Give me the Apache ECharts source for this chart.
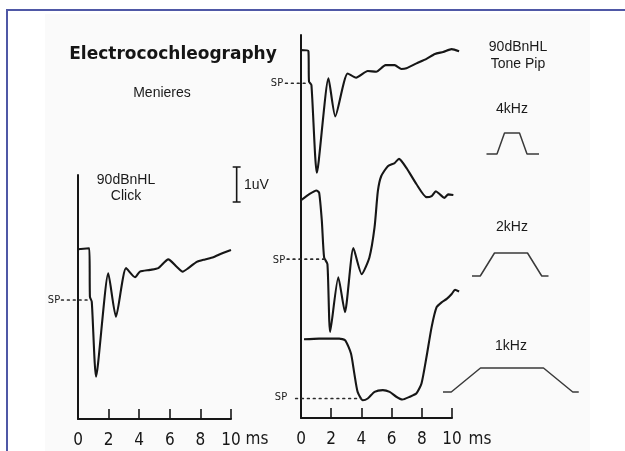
<!DOCTYPE html>
<html><head><meta charset="utf-8">
<script src="https://cdn.jsdelivr.net/npm/echarts@6/dist/echarts.min.js"></script>
<style>html,body{margin:0;padding:0;background:#fff}#c{width:625px;height:451px}</style>
</head><body><div id="c"></div>
<script>
// ---- data (time in ms, amplitude in uV) ----
const xTicks = [0, 2, 4, 6, 8, 10];

const clickTime = [0, 0.74, 0.78, 0.90, 1.18, 1.98, 2.48, 3.14, 3.73, 4.05, 4.71, 5.25, 5.90, 6.45, 6.84, 7.21, 7.76, 8.30, 8.84, 9.39, 10.0];
const clickAmp  = [4.85, 4.88, 3.49, 3.35, 1.21, 4.16, 2.92, 4.31, 4.05, 4.21, 4.26, 4.31, 4.56, 4.35, 4.21, 4.31, 4.49, 4.56, 4.62, 4.73, 4.83];
const clickSP   = 3.40;

const pip4Time = [0, 0.49, 0.53, 0.69, 1.05, 1.82, 2.27, 3.09, 3.65, 4.42, 4.98, 5.60, 6.20, 6.65, 6.98, 7.65, 8.31, 8.87, 9.42, 9.98, 10.47];
const pip4Amp  = [10.56, 10.53, 9.66, 9.56, 7.04, 9.75, 8.66, 9.89, 9.77, 9.96, 9.94, 10.13, 10.13, 10.02, 10.04, 10.18, 10.31, 10.45, 10.51, 10.59, 10.53];
const pip4SP   = 9.61;

const pip2Time = [0, 0.53, 1.02, 1.20, 1.38, 1.53, 1.75, 1.93, 2.47, 2.91, 3.47, 4.02, 4.53, 4.87, 5.09, 5.31, 5.75, 6.20, 6.49, 6.98, 7.65, 8.31, 8.65, 8.93, 9.20, 9.49, 9.75, 10.09];
const pip2Amp  = [6.25, 6.42, 6.53, 6.47, 5.66, 4.61, 4.42, 2.47, 4.04, 3.04, 4.88, 4.13, 4.61, 5.47, 6.51, 6.94, 7.23, 7.32, 7.44, 7.18, 6.71, 6.34, 6.37, 6.51, 6.42, 6.32, 6.42, 6.40];
const pip2SP   = 4.56;

const pip1Time = [0.2, 1.2, 2.53, 2.93, 3.31, 3.53, 3.75, 4.09, 4.42, 4.87, 5.42, 5.87, 6.31, 6.71, 7.20, 7.65, 7.98, 8.31, 8.65, 8.98, 9.31, 9.65, 9.98, 10.2, 10.47];
const pip1Amp  = [2.26, 2.28, 2.28, 2.23, 1.85, 1.28, 0.75, 0.51, 0.56, 0.75, 0.80, 0.75, 0.61, 0.53, 0.61, 0.71, 0.99, 1.75, 2.61, 3.18, 3.32, 3.42, 3.56, 3.68, 3.63];
const pip1SP   = 0.56;

// SP dotted marker extents (ms)
const spClick = [-1.07, 0.78];
const sp4 = [-1.02, 0.53];
const sp2 = [-0.91, 1.53];
const sp1 = [-0.35, 3.98];

// 1 uV calibration bar (ms position, uV range)
const calX = 10.37;
const calRange = [6.2, 7.2];

// stimulus envelopes (ms relative to centre, relative amplitude)
const env4Time = [-1.7, -1.0, -0.5, 0.5, 1.0, 1.8];
const env2Time = [-2.6, -2.05, -1.1, 1.1, 2.05, 2.5];
const env1Time = [-4.6, -4.05, -2.1, 2.1, 4.05, 4.45];
const envAmp   = [0, 0, 1, 1, 0, 0];

// ---- build ----
const zip = (a, b) => a.map((v, i) => [v, b[i]]);
const INK = '#161616';
const FONT = "'Liberation Sans', Arial, sans-serif";
const NARROW = "'Liberation Sans Narrow', 'DejaVu Sans Condensed', 'Liberation Sans', sans-serif";

// panel geometry (pixels per ms / per uV shared by visible axes and data overlay)
const L = { left: 78, bottom: 419, pxMs: 15.3, pxUv: 35, yMax: 6.97 };
const R = { left: 301, bottom: 418, pxMs: 15.1, pxUv: 35, yMax: 10.94 };
const OV = { xMin: -2, xMax: 11, yMax: 8 };   // overlay ranges
const ROV = { xMin: -2, xMax: 11, yMax: 12 };

function mainX(gi) {
  return {
    gridIndex: gi, type: 'value', min: xTicks[0], max: xTicks[xTicks.length - 1], interval: 2,
    axisLine: { show: true, onZero: false, lineStyle: { color: INK, width: 2 } },
    axisTick: { show: true, inside: true, length: 10, lineStyle: { color: INK, width: 1.6 } },
    axisLabel: { show: true, margin: 13, fontSize: 17, color: INK, fontFamily: NARROW },
    splitLine: { show: false }
  };
}
function mainY(gi, max) {
  return {
    gridIndex: gi, type: 'value', min: 0, max: max,
    axisLine: { show: true, onZero: false, lineStyle: { color: INK, width: 2 } },
    axisTick: { show: false }, axisLabel: { show: false }, splitLine: { show: false }
  };
}
function hid(gi, min, max) { return { gridIndex: gi, type: 'value', min: min, max: max, show: false }; }
function ovGrid(P, O) {
  return { left: P.left + O.xMin * P.pxMs, width: (O.xMax - O.xMin) * P.pxMs,
           top: P.bottom - O.yMax * P.pxUv, height: O.yMax * P.pxUv };
}

function trace(ai, data, w) {
  return { type: 'line', xAxisIndex: ai, yAxisIndex: ai, data: data, symbol: 'none', clip: false,
    smooth: 0.2, lineStyle: { color: INK, width: w || 2.1 }, silent: true, z: 3 };
}
function dotted(ai, ext, y) {
  return { type: 'line', xAxisIndex: ai, yAxisIndex: ai, data: [[ext[0], y], [ext[1], y]], symbol: 'none',
    clip: false, lineStyle: { color: '#2a2a2a', width: 1.7, type: [1.7, 4.2], cap: 'round' }, silent: true, z: 3 };
}
function env(ai, t) {
  return { type: 'line', xAxisIndex: ai, yAxisIndex: ai, data: zip(t, envAmp), symbol: 'none', clip: false,
    lineStyle: { color: '#3a3a3a', width: 1.5 }, silent: true, z: 3 };
}

const calData = [[calX - 0.26, calRange[1]], [calX + 0.26, calRange[1]], [calX, calRange[1]],
                 [calX, calRange[0]], [calX - 0.26, calRange[0]], [calX + 0.26, calRange[0]]];

function txt(x, y, s, size, opts) {
  return Object.assign({ type: 'text', x: x, y: y, silent: true,
    style: Object.assign({ text: s, fill: '#1a1a1a', font: size + 'px ' + FONT, textAlign: 'center', textVerticalAlign: 'middle' }, opts || {}) });
}

const option = {
  animation: false,
  backgroundColor: '#ffffff',
  grid: [
    { left: L.left, top: L.bottom - L.yMax * L.pxUv, width: 10 * L.pxMs, height: L.yMax * L.pxUv },
    { left: R.left, top: R.bottom - R.yMax * R.pxUv, width: 10 * R.pxMs, height: R.yMax * R.pxUv },
    ovGrid(L, OV),
    ovGrid(R, ROV),
    { left: 437, top: 133, width: 150, height: 21 },
    { left: 436, top: 253, width: 150, height: 23 },
    { left: 437, top: 368, width: 150, height: 24 }
  ],
  xAxis: [mainX(0), mainX(1), hid(2, OV.xMin, OV.xMax), hid(3, ROV.xMin, ROV.xMax), hid(4, -5, 5), hid(5, -5, 5), hid(6, -5, 5)],
  yAxis: [mainY(0, L.yMax), mainY(1, R.yMax), hid(2, 0, OV.yMax), hid(3, 0, ROV.yMax), hid(4, 0, 1), hid(5, 0, 1), hid(6, 0, 1)],
  series: [
    trace(2, zip(clickTime, clickAmp)),
    dotted(2, spClick, clickSP),
    Object.assign(trace(2, calData, 1.6), { smooth: false }),
    trace(3, zip(pip4Time, pip4Amp)),
    dotted(3, sp4, pip4SP),
    trace(3, zip(pip2Time, pip2Amp)),
    dotted(3, sp2, pip2SP),
    trace(3, zip(pip1Time, pip1Amp)),
    dotted(3, sp1, pip1SP),
    env(4, env4Time),
    env(5, env2Time),
    env(6, env1Time)
  ],
  graphic: [
    { type: 'rect', z: -1, silent: true, shape: { x: 45, y: 14, width: 545, height: 437 }, style: { fill: '#fafafa' } },
    { type: 'line', silent: true, shape: { x1: 6, y1: 10, x2: 625, y2: 10 }, style: { stroke: '#4f58a6', lineWidth: 2 } },
    { type: 'line', silent: true, shape: { x1: 7, y1: 10, x2: 7, y2: 451 }, style: { stroke: '#4f58a6', lineWidth: 2 } },
    txt(173, 55, 'Electrocochleography', 17, { font: "bold 17px 'DejaVu Sans', sans-serif", fill: '#151515' }),
    txt(162, 93, 'Menieres', 14),
    txt(126, 180, '90dBnHL', 14),
    txt(126, 196, 'Click', 14),
    txt(244, 185, '1uV', 14, { textAlign: 'left' }),
    txt(518, 47, '90dBnHL', 14),
    txt(518, 64, 'Tone Pip', 14),
    txt(512, 109, '4kHz', 14),
    txt(512, 227, '2kHz', 14),
    txt(511, 346, '1kHz', 14),
    txt(257, 440, 'ms', 17, { font: '17px ' + NARROW }),
    txt(480, 440, 'ms', 17, { font: '17px ' + NARROW }),
    txt(54, 300, 'SP', 11, { font: '11px ' + NARROW }),
    txt(277, 83, 'SP', 11, { font: '11px ' + NARROW }),
    txt(279, 260, 'SP', 11, { font: '11px ' + NARROW }),
    txt(281, 397, 'SP', 11, { font: '11px ' + NARROW })
  ]
};
echarts.init(document.getElementById('c'), null, { renderer: 'canvas' }).setOption(option);
</script></body></html>
